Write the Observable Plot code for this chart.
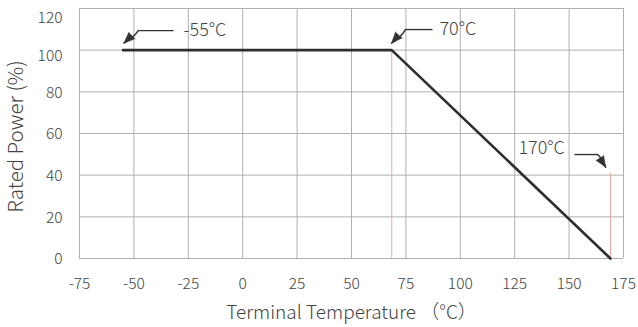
<!DOCTYPE html>
<html>
<head>
<meta charset="utf-8">
<script src="https://cdn.jsdelivr.net/npm/d3@7"></script>
<script src="https://cdn.jsdelivr.net/npm/@observablehq/plot@0.6"></script>
<style>
  html, body { margin: 0; padding: 0; background: #fff; }
  #chart svg { display: block; }
</style>
</head>
<body>
<div id="chart"></div>
<script>
// Data
const xTicks = [-75, -50, -25, 0, 25, 50, 75, 100, 125, 150, 175];
const yTicks = [0, 20, 40, 60, 80, 100, 120];
const curveTemp = [-55, 68.5, 169];
const curvePower = [100, 100, 0];
const markerTemp = [68.5, 169];
const markerTop = [100, 41];
// Annotations
const annLabels = ["-55°C", "70°C", "170°C"];
const annTextX = [-27.2, 90.4, 126.7];
const annTextY = [109.5, 110, 53];
const annLineX1 = [-31.8, 87.2, 152.5];
const annLineX2 = [-48, 74.8, 163.1];
const annLineY = [109.4, 109.9, 49.9];
const annTipX = [-54.6, 68.4, 166.8];
const annTipY = [103.4, 103.4, 43.8];
const annHeadAngle = [-133, -138, 148];

const curve = curveTemp.map((t, i) => ({t, p: curvePower[i]}));
const markers = markerTemp.map((t, i) => ({t, top: markerTop[i]}));
const ann = annLabels.map((label, i) => ({
  label, tx: annTextX[i], ty: annTextY[i],
  x1: annLineX1[i], x2: annLineX2[i], y: annLineY[i],
  tipX: annTipX[i], tipY: annTipY[i], angle: annHeadAngle[i]
}));

const font = "'Noto Sans CJK SC', 'Noto Sans', sans-serif";
const ink = "#444";
const fmt = d => String(d);

const chart = Plot.plot({
  width: 638,
  height: 327,
  marginLeft: 79,
  marginRight: 15,
  marginTop: 8,
  marginBottom: 69,
  style: {fontFamily: font, fontSize: "15px", fontWeight: 300, color: ink, background: "#fff", overflow: "visible"},
  x: {domain: [-75, 175], ticks: xTicks, label: null},
  y: {domain: [0, 120], ticks: yTicks, label: null},
  marks: [
    Plot.gridX(xTicks, {stroke: "#b0b0b0", strokeOpacity: 1}),
    Plot.gridY(yTicks, {stroke: "#b0b0b0", strokeOpacity: 1}),
    Plot.ruleX(markers, {x: "t", y1: 0, y2: "top", stroke: "#f2a5a5", strokeWidth: 1}),
    Plot.axisX(xTicks, {tickSize: 0, tickPadding: 19, fontSize: 15.5, fill: ink, label: null, tickFormat: fmt}),
    Plot.axisY(yTicks.filter(d => d <= 80), {tickSize: 0, tickPadding: 17, fontSize: 15.5, fill: ink, label: null, tickFormat: fmt, dy: 1}),
    Plot.axisY(yTicks.filter(d => d === 100), {tickSize: 0, tickPadding: 17, fontSize: 15.5, fill: ink, label: null, tickFormat: fmt, dy: 6}),
    Plot.axisY(yTicks.filter(d => d === 120), {tickSize: 0, tickPadding: 17, fontSize: 15.5, fill: ink, label: null, tickFormat: fmt, dy: 10}),
    Plot.line(curve, {x: "t", y: "p", stroke: "#2e2e2e", strokeWidth: 2.6}),
    Plot.link(ann, {x1: "x1", x2: "x2", y1: "y", y2: "y", stroke: "#333", strokeWidth: 1.4}),
    Plot.arrow(ann, {x1: "x2", y1: "y", x2: "tipX", y2: "tipY", stroke: "#333", strokeWidth: 1.5, headLength: 0, bend: 15}),
    Plot.vector(ann, {x: "tipX", y: "tipY", rotate: "angle", length: 11, r: 4.5, shape: "spike", anchor: "end", fill: "#333", stroke: "#333", strokeWidth: 0.5}),
    Plot.text(ann, {x: "tx", y: "ty", text: "label", textAnchor: "start", fontSize: 18, fontWeight: 300, fill: ink, lineAnchor: "middle"}),
    Plot.text(["Rated Power (%)"], {frameAnchor: "left", dx: -63, dy: 3, rotate: -90, textAnchor: "middle", fontSize: 20.5, fontWeight: 300, fill: ink, lineAnchor: "middle"}),
    Plot.text(["Terminal Temperature （°C）"], {frameAnchor: "bottom", dy: 54, fontSize: 19, fontWeight: 300, fill: ink, lineAnchor: "middle"})
  ]
});
document.getElementById("chart").appendChild(chart);
</script>
</body>
</html>
